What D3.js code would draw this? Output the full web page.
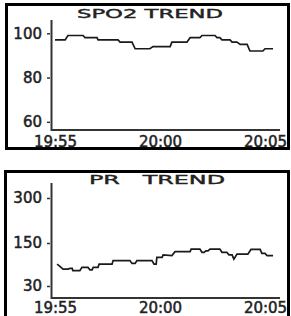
<!doctype html>
<html>
<head>
<meta charset="utf-8">
<script src="https://cdn.jsdelivr.net/npm/d3@7"></script>
<style>
  body { margin: 0; background: #fff; }
  svg { display: block; }
  text { font-family: "DejaVu Sans", sans-serif; fill: #222; }
</style>
</head>
<body>
<div id="main"></div>
<script>
// time axis: seconds after 19:55:00
var timeTicks = [0, 300, 600];
var timeLabels = ['19:55', '20:00', '20:05'];

// SpO2 trend
var spo2Sec = [0, 29, 37, 80, 86, 120, 123, 180, 186, 220, 229, 271, 280, 329, 334, 377,
  386, 414, 420, 457, 463, 471, 477, 500, 506, 520, 529, 549, 557, 594, 600, 623];
var spo2Val = [97, 97, 99, 99, 98, 98, 97, 97, 96, 96, 93, 93, 94, 94, 96, 96,
  98, 98, 99, 99, 98, 98, 97, 97, 96, 96, 95, 95, 92, 92, 93, 93];
var spo2Ticks = [60, 80, 100];

// PR trend
var prSec = [6, 14, 23, 37, 43, 49, 51, 71, 77, 94, 100, 106, 109, 123, 126, 163, 166, 214, 220,
  229, 234, 277, 283, 289, 291, 306, 309, 334, 343, 386, 389, 414, 420, 426, 431, 437, 443, 471,
  477, 491, 497, 506, 511, 520, 551, 560, 586, 591, 600, 606, 623];
var prVal = [91, 85, 77, 77, 79, 79, 73, 73, 82, 82, 75, 75, 82, 82, 91, 91, 101, 101, 93,
  93, 101, 101, 91, 91, 110, 110, 117, 115, 126, 126, 133, 133, 124, 124, 128, 128, 133, 133,
  124, 124, 117, 117, 105, 119, 119, 132, 132, 121, 121, 115, 115];
var prTicks = [30, 150, 300];

var W = 291, H = 316;
var svg = d3.select('#main').append('svg')
  .attr('width', W)
  .attr('height', H);

var x = d3.scaleLinear().domain([0, 600]).range([55, 265]);

// panel frames
svg.append('rect').attr('x', 6.5).attr('y', 4.5).attr('width', 282).attr('height', 144)
  .attr('fill', 'none').attr('stroke', '#000').attr('stroke-width', 3);
svg.append('path').attr('d', 'M5.5,330V171.5H288.5V330')
  .attr('fill', 'none').attr('stroke', '#000').attr('stroke-width', 3);

function drawPanel(opt) {
  var g = svg.append('g');
  var y = opt.y;

  // title
  g.append('text')
    .attr('x', opt.titleX).attr('y', opt.titleY)
    .attr('font-size', 12.5)
    .attr('stroke', '#222').attr('stroke-width', 0.4)
    .attr('textLength', opt.titleW)
    .attr('lengthAdjust', 'spacingAndGlyphs')
    .attr('xml:space', 'preserve')
    .text(opt.title);

  // axes lines
  g.append('path')
    .attr('d', 'M51.5,' + opt.top + 'V' + opt.bottom + 'H280')
    .attr('fill', 'none').attr('stroke', '#333').attr('stroke-width', 2);

  // y ticks
  var ya = g.append('g').attr('transform', 'translate(50,0)')
    .call(d3.axisLeft(y).tickValues(opt.ticks).tickSize(3).tickPadding(5));
  ya.select('.domain').remove();
  ya.selectAll('line').attr('stroke', '#333').attr('stroke-width', 1.5);
  ya.selectAll('text').attr('font-size', 15).attr('fill', '#222')
    .attr('stroke', '#222').attr('stroke-width', 0.5)
    .style('font-family', '"DejaVu Sans", sans-serif');

  // x labels
  var xa = g.append('g').attr('transform', 'translate(0,' + opt.bottom + ')')
    .call(d3.axisBottom(x).tickValues(timeTicks).tickSize(0)
      .tickFormat(function(d, i) { return timeLabels[i]; }));
  xa.select('.domain').remove();
  xa.selectAll('text').attr('font-size', 15).attr('fill', '#222')
    .attr('stroke', '#222').attr('stroke-width', 0.5)
    .attr('y', opt.labelDy).attr('dy', 0)
    .style('font-family', '"DejaVu Sans", sans-serif');

  // trend line
  var pts = opt.sec.map(function(s, i) { return [s, opt.val[i]]; });
  g.append('path').datum(pts)
    .attr('fill', 'none').attr('stroke', '#1a1a1a').attr('stroke-width', 1.7)
    .attr('d', d3.line().x(function(d) { return x(d[0]); }).y(function(d) { return y(d[1]); }));
}

drawPanel({
  title: 'SPO2 TREND', titleX: 77, titleY: 18, titleW: 146,
  top: 20, bottom: 130, labelDy: 16.5,
  ticks: spo2Ticks,
  y: d3.scaleLinear().domain([56.3, 106]).range([130, 20]),
  sec: spo2Sec, val: spo2Val
});

drawPanel({
  title: 'PR   TREND', titleX: 89, titleY: 183.5, titleW: 136,
  top: 183, bottom: 298, labelDy: 15,
  ticks: prTicks,
  y: d3.scaleLinear().domain([30, 150, 300]).range([286, 243, 198]),
  sec: prSec, val: prVal
});
</script>
</body>
</html>
